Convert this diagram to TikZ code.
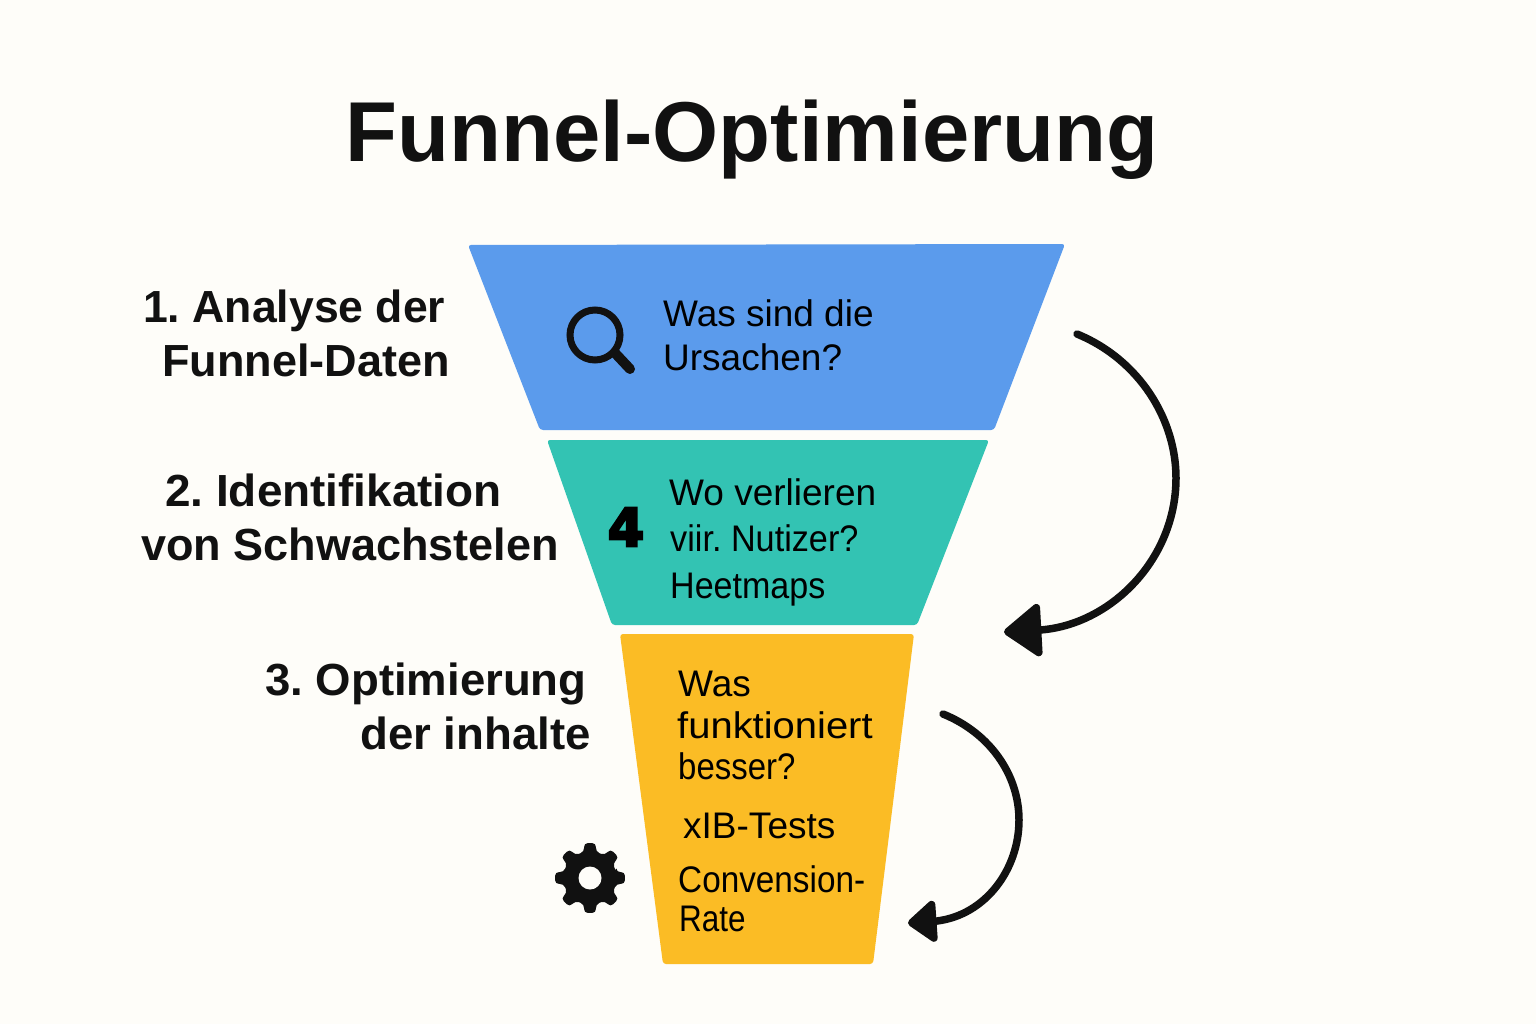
\documentclass[tikz,border=0pt]{standalone}
\usepackage{fontspec}
\setmainfont{Liberation Sans}
\newfontfamily\fourfont[FakeBold=5]{DejaVu Sans Bold}
\usetikzlibrary{arrows.meta}
\definecolor{bgc}{HTML}{FEFDF9}
\definecolor{inkc}{HTML}{111111}
\definecolor{bluec}{HTML}{5B9BEC}
\definecolor{tealc}{HTML}{33C3B3}
\definecolor{yelc}{HTML}{FBBC25}
\newcommand{\hsq}[2]{\scalebox{#1}[1]{#2}}
\tikzset{
  funnelpart/.style={rounded corners=3pt},
  steplabel/.style={font=\fontsize{45}{54}\selectfont\bfseries\frenchspacing,text=inkc,inner sep=0pt,anchor=base west,align=left},
  bodytext/.style={font=\fontsize{37}{44}\selectfont\frenchspacing,text=black,inner sep=0pt,anchor=base west,align=left},
  curvearrow/.style={draw=inkc,line width=7.5pt,line cap=round,-{Triangle[length=40pt,width=58pt,round]}},
}
\begin{document}
\begin{tikzpicture}[x=1pt,y=-1pt]
\path[fill=bgc] (0,0) rectangle (1536,1024);
\useasboundingbox (0,0) rectangle (1536,1024);
% title
\node[inner sep=0pt,anchor=base,text=inkc,font=\fontsize{85}{100}\selectfont\bfseries] (title) at (752,162) {Funnel-Optimierung};
% funnel
\fill[bluec,funnelpart] (468,245) -- (1065,244) -- (994,430) -- (540,430) -- cycle;
\fill[tealc,funnelpart] (547,440) -- (989,440) -- (917,625) -- (612,625) -- cycle;
\fill[yelc,funnelpart] (620,634) -- (914,634) -- (873,964) -- (663,964) -- cycle;
% left labels
\node[steplabel] (l1) at (143,376) {\hsq{.99}{1. Analyse der}\\[0pt]\hspace*{19pt}Funnel-Daten};
\node[steplabel] (l2) at (141,560) {\hspace*{24pt}\hsq{1.02}{2. Identifikation}\\[0pt]von Schwachstelen};
\node[steplabel] (l3) at (265,749) {\hsq{1.012}{3. Optimierung}\\[0pt]\hspace*{95pt}\hsq{1.013}{der inhalte}};
% body texts
\node[bodytext] (b1) at (663,370) {Was sind die\\Ursachen?};
\node[bodytext] (b2a) at (669,505) {Wo verlieren};
\node[bodytext] (b2b) at (670,551) {\hsq{.925}{viir. Nutizer?}};
\node[bodytext] (b2c) at (670,598) {\hsq{.92}{Heetmaps}};
\node[bodytext] (b3a) at (678,696) {Was};
\node[bodytext] (b3b) at (677,738) {\hsq{1.08}{funktioniert}};
\node[bodytext] (b3c) at (678,779) {\hsq{.89}{besser?}};
\node[bodytext] (b3d) at (683,838) {xIB-Tests};
\node[bodytext] (b3e) at (678,892) {\hsq{.9}{Convension-}};
\node[bodytext] (b3f) at (679,931) {\hsq{.85}{Rate}};
% magnifier
\draw[inkc,line width=7pt] (595,335) circle (25);
\draw[inkc,line width=10pt,line cap=round] (615,353) -- (630,369);
% four
\node[inner sep=0pt,text=black,font=\fontsize{52}{52}\fourfont] (four) at (626,527) {4};
% gear
\begin{scope}[shift={(590,878)}]
\fill[inkc,rounded corners=4pt]
  (-12:27) foreach \a in {0,45,...,315} {
    -- (\a-12:27) -- (\a-10:35.5) -- (\a+10:35.5) -- (\a+12:27)
  } -- cycle;
\fill[bgc] (0,0) circle (11.5);
\end{scope}
% arrows
\coordinate (a1s) at (1077,334);
\coordinate (a1m) at (1176,478);
\coordinate (a1e) at (1040,630);
\coordinate (a1t) at (1004,632);
\draw[curvearrow] (a1s) .. controls (1140,360) and (1176,420) .. (a1m) .. controls (1176,560) and (1110,625) .. (a1e) -- (a1t);
\coordinate (a2s) at (943,714);
\coordinate (a2m) at (1019,820);
\coordinate (a2e) at (937,921);
\coordinate (a2t) at (908,923);
\draw[curvearrow,-{Triangle[length=31pt,width=47pt,round]}] (a2s) .. controls (990,733) and (1019,775) .. (a2m) .. controls (1019,870) and (985,915) .. (a2e) -- (a2t);
\end{tikzpicture}
\end{document}
